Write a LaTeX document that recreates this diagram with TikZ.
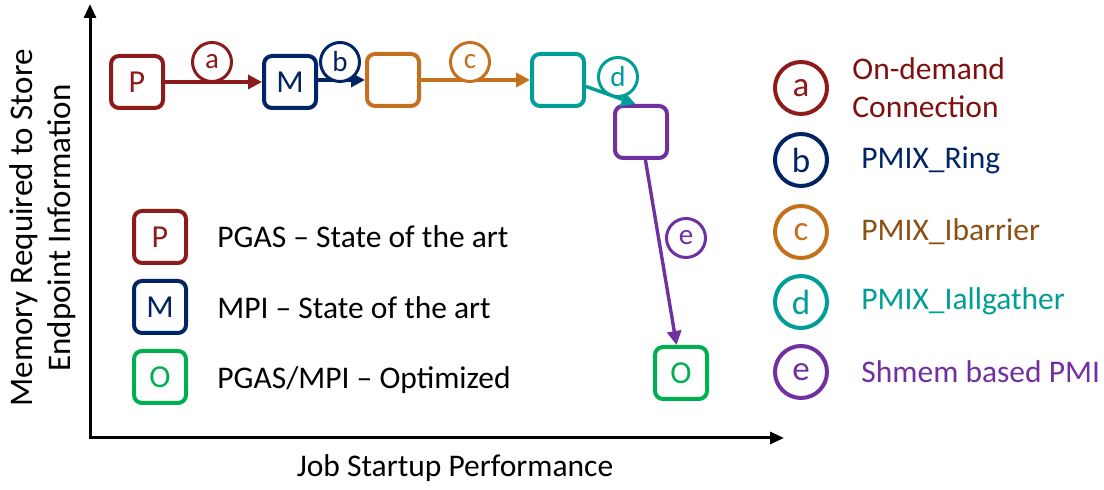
\documentclass[tikz,border=0pt]{standalone}
\usepackage{fontspec}
\setmainfont{Carlito}
\usetikzlibrary{arrows.meta}
\definecolor{cP}{RGB}{140,28,28}
\definecolor{cPt}{RGB}{128,16,16}
\definecolor{cM}{RGB}{0,36,100}
\definecolor{cC}{RGB}{196,112,28}
\definecolor{cCt}{RGB}{140,80,20}
\definecolor{cT}{RGB}{0,158,150}
\definecolor{cU}{RGB}{112,48,160}
\definecolor{cO}{RGB}{0,176,80}
\begin{document}
\begin{tikzpicture}[x=0.5pt,y=-0.5pt,
  stage/.style={draw=#1, line width=2pt, rounded corners=4pt, minimum size=26pt,
    inner sep=0pt, fill=white, text=#1, font=\fontsize{16}{17}\selectfont},
  tag/.style={circle, draw=#1, line width=1.5pt, minimum size=19.5pt, inner sep=0pt,
    fill=white, text=#1, font=\fontsize{14.5}{15}\selectfont},
  keycircle/.style={circle, draw=#1, line width=2pt, minimum size=26pt, inner sep=0pt,
    text=#1, font=\fontsize{17.5}{18}\selectfont},
  flow/.style={draw=#1, line width=1.7pt, -{Triangle[length=7pt,width=7pt]}},
  axis/.style={line width=1.5pt, -{Triangle[length=7pt,width=6pt]}},
  lbl/.style={font=\fontsize{15.75}{19}\selectfont, anchor=west, inner sep=0pt, align=left}
]
\useasboundingbox (0,0) rectangle (1104,490);

% axes
\coordinate (origin) at (90,438);
\coordinate (ytop) at (90,4);
\coordinate (xend) at (784,438);
\draw[axis] ([yshift=-0.75pt]origin) -- (ytop);
\draw[axis] ([xshift=-0.75pt]origin) -- (xend);
\node[font=\fontsize{15.75}{19}\selectfont] (xlab) at (455,468) {Job Startup Performance};
\node[font=\fontsize{16.5}{19}\selectfont, rotate=90, align=center] (ylab) at (43,228)
  {Memory Required to Store\\Endpoint Information};

% stages of the startup path
\node[stage=cP] (P) at (137,82) {P};
\node[stage=cM] (M) at (290,82) {M};
\node[stage=cC] (C) at (393,80) {};
\node[stage=cT] (T) at (558,80) {};
\node[stage=cU] (U) at (641,132) {};
\node[stage=cO] (O) at (681,373) {O};

% transitions
\draw[flow=cP] (P) -- (M);
\draw[flow=cM] (M.east |- C.west) -- (C.west);
\draw[flow=cC] (C) -- (T);
\draw[flow=cT] (T.-13) -- (U.101);
\draw[flow=cU] (U.-81) -- (O.99);

% transition tags
\node[tag=cP] (ta) at (212,62) {a};
\node[tag=cM] (tb) at (340,62) {b};
\node[tag=cC] (tc) at (470,62) {c};
\node[tag=cT] (td) at (618,77) {d};
\node[tag=cU] (te) at (686,238) {e};

% legend of stages
\node[stage=cP] (kP) at (160,237) {P};
\node[stage=cM] (kM) at (160,307) {M};
\node[stage=cO] (kO) at (160,377) {O};
\node[lbl] (kPt) at (217,237) {PGAS -- State of the art};
\node[lbl] (kMt) at (217,308) {MPI -- State of the art};
\node[lbl] (kOt) at (217,380) {PGAS/MPI -- Optimized};

% legend of transitions
\node[keycircle=cP] (ka) at (801,88) {a};
\node[keycircle=cM] (kb) at (801,160) {b};
\node[keycircle=cC] (kc) at (801,232) {c};
\node[keycircle=cT] (kd) at (801,302) {d};
\node[keycircle=cU] (ke) at (801,372) {e};
\node[lbl, text=cPt] (kat) at (852,88) {On-demand\\Connection};
\node[lbl, text=cM] (kbt) at (861,160) {PMIX\_Ring};
\node[lbl, text=cCt] (kct) at (861,232) {PMIX\_Ibarrier};
\node[lbl, text=cT] (kdt) at (861,301) {PMIX\_Iallgather};
\node[lbl, text=cU] (ket) at (861,372) {Shmem based PMI};
\end{tikzpicture}
\end{document}
